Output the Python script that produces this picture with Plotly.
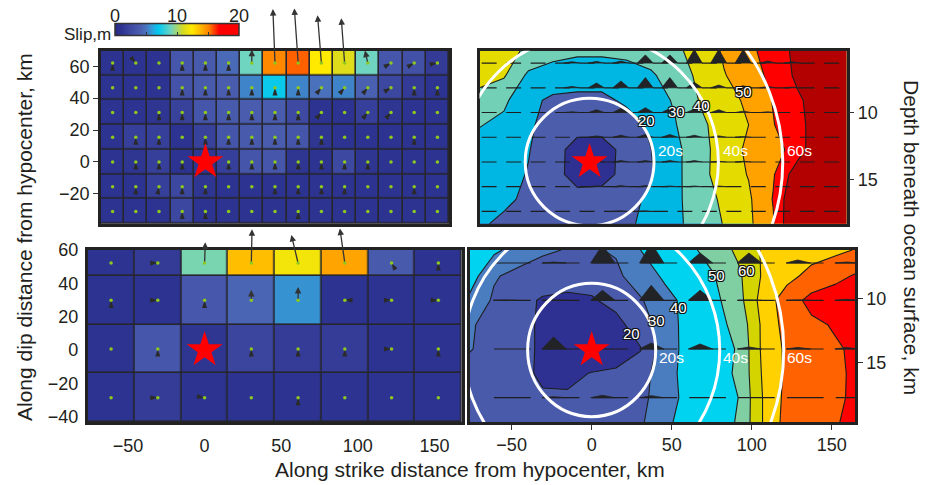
import math
import plotly.graph_objects as go

W, H = 933, 485
FONT = "Liberation Sans, Arial, Helvetica, sans-serif"
INK = "#231f20"

# ------------------------------------------------------------------ DATA
# Upper slip model: 15 x 7 subfaults (edges in km, along strike / along dip)
top_x_edges = [-68.4, -53.2, -38.0, -22.8, -7.6, 7.6, 22.8, 38.0, 53.2, 68.4,
               83.6, 98.8, 114.0, 129.2, 144.4, 159.6]
top_y_edges = [69.75, 54.25, 38.75, 23.25, 7.75, -7.75, -23.25, -38.75]   # top -> bottom
top_slip = [  # m, top row first
    [1.0, 1.0, 1.0, 3.5, 3.8, 4.6, 9.0, 15.0, 15.6, 12.4, 11.3, 9.0, 3.5, 3.0, 1.5],
    [1.0, 1.0, 1.0, 3.3, 3.8, 4.0, 5.4, 7.2, 5.4, 5.0, 5.4, 4.2, 2.3, 1.5, 1.0],
    [1.0, 1.0, 1.2, 2.0, 3.4, 3.8, 4.0, 4.0, 2.5, 1.0, 1.0, 1.8, 1.2, 1.0, 1.0],
    [1.0, 1.8, 1.8, 1.0, 2.0, 3.4, 3.8, 4.0, 3.4, 1.2, 1.0, 1.0, 1.0, 1.0, 1.0],
    [1.0, 1.2, 1.8, 1.0, 1.2, 1.8, 3.4, 3.5, 1.2, 1.0, 2.4, 1.2, 1.0, 1.0, 1.0],
    [1.0, 1.0, 1.8, 2.3, 1.2, 1.0, 1.0, 1.0, 1.0, 1.0, 1.0, 1.0, 1.0, 1.0, 1.0],
    [1.0, 1.0, 1.0, 2.3, 1.0, 1.0, 1.0, 1.0, 1.0, 1.0, 1.0, 1.0, 1.0, 1.0, 1.0],
]
N = None
top_rake = [  # direction of small slip vectors (deg clockwise from up-dip), None = not drawn
    [0, 140, N, 0, 0, 0, N, N, N, N, N, N, 60, 60, 80],
    [N, N, N, 0, 0, 0, 0, 0, 0, 40, 40, 40, 60, 0, 0],
    [N, N, 0, 0, 0, 0, 0, 0, 0, 40, N, 40, 40, N, N],
    [N, 0, 0, N, 0, 0, 0, 0, 0, 0, N, N, N, 0, N],
    [N, 0, 0, 0, N, 0, 0, 0, 0, 0, 0, 0, N, N, N],
    [N, 0, 10, 0, 0, N, N, 0, 0, 0, 0, N, N, 0, N],
    [N, N, N, 0, 0, N, N, N, 0, N, N, N, N, N, N],
]
# large slip vectors (row, col, along-strike m, up-dip m)
top_vec_row = [0, 0, 0, 0, 0, 0]
top_vec_col = [6, 7, 8, 9, 10, 11]
top_vec_ds = [0.0, -0.6, -1.1, -1.1, -0.95, -0.8]
top_vec_dd = [3.6, 14.7, 14.9, 13.0, 12.2, 3.4]

# Lower slip model: 8 x 4 subfaults
bot_x_edges = [-76.25, -45.75, -15.25, 15.25, 45.75, 76.25, 106.75, 137.25, 167.75]
bot_y_edges = [60.0, 44.4, 15.2, -14.0, -43.2]   # top -> bottom
bot_slip = [
    [1.0, 1.5, 9.2, 13.6, 12.0, 14.3, 3.8, 1.0],
    [1.0, 1.0, 3.6, 4.4, 5.7, 1.0, 1.0, 1.0],
    [1.0, 3.5, 1.2, 2.2, 1.6, 1.6, 1.0, 1.0],
    [1.0, 1.6, 1.0, 1.0, 1.0, 1.0, 1.0, 1.0],
]
bot_rake = [
    [N, 90, N, N, N, N, -30, 0],
    [0, 90, 0, N, N, 270, 90, 90],
    [N, 0, N, 0, 0, 0, 90, 0],
    [N, 90, 100, N, 0, N, N, N],
]
bot_vec_row = [0, 0, 0, 0, 1, 1]
bot_vec_col = [2, 3, 4, 5, 3, 4]
bot_vec_ds = [0.2, 0.2, -1.9, -1.4, 0.0, 0.0]
bot_vec_dd = [5.4, 8.8, 7.3, 9.0, 2.7, 3.5]

# Rupture time (s) for upper model, on subfault corners (top_x_edges x top_y_edges)
top_time = [
    [45, 43, 38.5, 34, 32, 32, 33, 35, 38.5, 43, 51.5, 58, 64, 73, 80, 85],
    [44, 41, 28, 25, 24, 24, 25, 28.5, 35, 42, 49.5, 55, 63, 72, 80, 85],
    [36, 32, 22, 18.5, 18, 18, 21.5, 26, 31, 40.5, 46, 52, 60.5, 68.5, 75, 80],
    [30.5, 27.5, 21.5, 16, 14, 14, 16, 21.5, 29.5, 38, 44, 50, 59.5, 67.5, 75, 80],
    [26, 24, 20.5, 14, 6, 6, 13, 19.8, 27.5, 36.5, 44.5, 52, 55.5, 65, 80, 85],
    [25, 23, 19.5, 14, 5.5, 6, 13.5, 19, 27.5, 36.5, 45, 50.5, 59, 76, 82, 86],
    [24, 21.5, 18.5, 15.5, 14, 14.5, 17.5, 21.5, 28, 35, 42, 48.5, 60.5, 82, 88, 92],
    [21, 18.5, 17, 16, 16, 16.5, 18.5, 22.5, 28, 34, 40.5, 48, 59, 85, 95, 100],
]
# Rupture time (s) for lower model on a half-subfault node grid
bot_t_x = [-76.25, -61.0, -45.75, -30.5, -15.25, 0.0, 15.25, 30.5, 45.75, 61.0,
           76.25, 91.5, 106.75, 122.0, 137.25, 152.5, 167.75]
bot_t_y = [60.0, 44.4, 29.8, 15.2, 0.6, -14.0, -28.6, -43.2]
bot_time = [
    [46, 42, 36, 31.5, 29.5, 29, 31, 40, 45, 48, 54, 62, 71, 74, 76, 78, 81],
    [45, 31, 27, 25, 24, 24, 28, 35, 41.5, 46, 49.5, 58, 71, 77, 83, 87, 92],
    [38, 28.5, 23, 19, 18, 19, 23, 29, 37, 43, 47.5, 56, 74, 85, 93, 96, 95],
    [31, 27, 23, 18.5, 15, 14, 17, 25, 35, 44, 47, 52.5, 72, 84, 88, 91, 93],
    [30.5, 27, 23, 18.5, 13, 10, 13, 19.5, 36, 43, 47, 50.5, 72, 82, 86, 89, 92],
    [27, 25, 22.5, 18.5, 17, 20.5, 22, 25, 37, 43, 47, 51, 71, 82, 86, 88.5, 92],
    [27, 25, 23, 21, 21.5, 22.5, 24, 27, 36, 43, 46.5, 50, 70, 83, 86, 88, 93],
    [27, 26, 25, 24, 23.5, 23.5, 24.5, 28.5, 38, 44, 47, 50.5, 70, 84, 86, 89, 95],
]
# relative peak amplitude of slip-rate functions
top_amp = [
    [0, 0, 0, 0.1, 0.12, 0.15, 0.6, 0.6, 1.0, 1.0, 1.0, 0.15, 0.1, 0, 0],
    [0, 0, 0, 0.1, 0.35, 0.5, 0.75, 0.75, 0.4, 0.2, 0.15, 0.1, 0.05, 0, 0],
    [0, 0, 0, 0.05, 0.2, 0.3, 0.35, 0.3, 0.25, 0.2, 0.1, 0.05, 0, 0, 0],
    [0, 0, 0, 0, 0.1, 0.15, 0.2, 0.2, 0.15, 0.1, 0.05, 0, 0, 0, 0],
    [0, 0, 0, 0, 0.05, 0.1, 0.1, 0.1, 0.1, 0.05, 0.05, 0, 0, 0, 0],
    [0, 0, 0, 0, 0.05, 0.08, 0.08, 0.05, 0.05, 0.05, 0, 0, 0, 0, 0],
    [0, 0, 0, 0, 0, 0.05, 0.05, 0, 0, 0, 0, 0, 0, 0, 0],
]
bot_amp = [
    [0, 0.05, 0.9, 1.0, 0.5, 0.5, 0.15, 0.05],
    [0.02, 0.02, 0.5, 0.75, 0.5, 0.02, 0.02, 0.05],
    [0, 0.6, 0, 0.3, 0.25, 0.1, 0.08, 0.08],
    [0, 0.05, 0.12, 0.1, 0, 0, 0, 0],
]
front_times = [20, 40, 60]      # s
rupture_speed = 2.0             # km/s
top_contour_labels = [20, 30, 40, 50]
top_label_x = [35.4, 54.0, 69.6, 95.4]
top_label_y = [26.3, 31.5, 35.7, 44.0]
bot_contour_labels = [20, 30, 40, 50, 60]
bot_label_x = [25.0, 40.2, 54.1, 77.7, 96.9]
bot_label_y = [10.0, 17.7, 25.4, 44.8, 47.9]
depth_ticks = [10, 15]
top_hypo_depth, top_dip = 13.7, 6.9
bot_hypo_depth, bot_dip = 14.0, 7.4
x_ticks = [-50, 0, 50, 100, 150]

# ------------------------------------------------------------------ STYLE
slip_cs = [[0.0, "#292c84"], [0.05, "#2d3390"], [0.12, "#3d48a0"], [0.2, "#4a5cae"],
           [0.25, "#4a72bc"], [0.3, "#2fa0dc"], [0.35, "#00c8f0"], [0.45, "#6fd4c0"],
           [0.55, "#d6da22"], [0.62, "#ffea00"], [0.7, "#ffb000"], [0.76, "#ff8000"],
           [0.8, "#ff4000"], [0.84, "#ff0000"], [1.0, "#ff0000"]]
top_band_colors = ["#2e3192", "#4b5dab", "#00b6e3", "#71d0b6", "#e4db00", "#ffa200",
                   "#ff0000", "#b30000"]
bot_band_colors = ["#2e3192", "#4a5aab", "#4a7dc0", "#00d3ef", "#80cfa3", "#d4d400",
                   "#ffd100", "#ff6200", "#ff0000"]


def band_scale(cols):
    n = len(cols) - 1
    return [[i / n, c] for i, c in enumerate(cols)]


def mids(e):
    return [(e[i] + e[i + 1]) / 2 for i in range(len(e) - 1)]


def fx(p):
    return p / W


def fy(p):
    return 1 - p / H


fig = go.Figure()

# ---------------- slip heatmaps
for xe, ye, z, xa, ya in [(top_x_edges, top_y_edges, top_slip, "x", "y"),
                          (bot_x_edges, bot_y_edges, bot_slip, "x3", "y3")]:
    fig.add_trace(go.Heatmap(x=xe, y=ye[::-1], z=z[::-1], coloraxis="coloraxis",
                             xgap=1.6, ygap=1.6, xaxis=xa, yaxis=ya, hoverinfo="skip"))

# small slip arrowheads + green dots
for xe, ye, rk, xa, ya, sz in [(top_x_edges, top_y_edges, top_rake, "x", "y", 8),
                               (bot_x_edges, bot_y_edges, bot_rake, "x3", "y3", 8)]:
    xc, yc = mids(xe), mids(ye)
    ax_, ay_, ang = [], [], []
    dx, dy = [], []
    for r, yv in enumerate(yc):
        for c, xv in enumerate(xc):
            dx.append(xv)
            dy.append(yv)
            if rk[r][c] is not None:
                ax_.append(xv)
                ay_.append(yv)
                ang.append(rk[r][c])
    fig.add_trace(go.Scatter(x=ax_, y=ay_, mode="markers", xaxis=xa, yaxis=ya,
                             marker=dict(symbol="arrow", size=sz, angle=ang, color="#2a2a2a",
                                         line=dict(width=0)),
                             hoverinfo="skip", showlegend=False))
    fig.add_trace(go.Scatter(x=dx, y=dy, mode="markers", xaxis=xa, yaxis=ya,
                             marker=dict(symbol="circle", size=3.5, color="#8cc81e",
                                         line=dict(width=0)),
                             hoverinfo="skip", showlegend=False))

# ---------------- rupture-time contours
fig.add_trace(go.Contour(x=top_x_edges, y=top_y_edges[::-1], z=top_time[::-1],
                         xaxis="x2", yaxis="y2", autocontour=False,
                         contours=dict(start=10, end=70, size=10, coloring="fill", showlines=True),
                         colorscale=band_scale(top_band_colors), showscale=False,
                         line=dict(color="#1e1e1e", width=1.1, smoothing=0), hoverinfo="skip"))
fig.add_trace(go.Contour(x=bot_t_x, y=bot_t_y[::-1], z=bot_time[::-1],
                         xaxis="x4", yaxis="y4", autocontour=False,
                         contours=dict(start=20, end=90, size=10, coloring="fill", showlines=True),
                         colorscale=band_scale(bot_band_colors), showscale=False,
                         line=dict(color="#1e1e1e", width=1.1, smoothing=0), hoverinfo="skip"))


# time-window dashes and slip-rate peaks
def windows(xe, ye, amp, xa, ya, d0, d1, p0, pk, p1, hscale):
    xc, yc = mids(xe), mids(ye)
    lx, ly, wx, wy = [], [], [], []
    for r, yv in enumerate(yc):
        for c, xv in enumerate(xc):
            w = xe[c + 1] - xe[c]
            lx += [xv + d0 * w, xv + d1 * w, None]
            ly += [yv, yv, None]
            a = amp[r][c]
            if a > 0:
                wx += [xv + p0 * w, xv + pk * w, xv + p1 * w, xv + p0 * w, None]
                wy += [yv, yv + a * hscale, yv, yv, None]
    fig.add_trace(go.Scatter(x=lx, y=ly, mode="lines", xaxis=xa, yaxis=ya,
                             line=dict(color="#1e1e1e", width=1.2),
                             hoverinfo="skip", showlegend=False))
    fig.add_trace(go.Scatter(x=wx, y=wy, mode="lines", fill="toself", xaxis=xa, yaxis=ya,
                             fillcolor="#222326", line=dict(color="#222326", width=0.8),
                             hoverinfo="skip", showlegend=False))


windows(top_x_edges, top_y_edges, top_amp, "x2", "y2", -0.41, 0.2, -0.05, 0.28, 0.6, 8.5)
windows(bot_x_edges, bot_y_edges, bot_amp, "x4", "y4", 0.0, 0.75, -0.02, 0.22, 0.48, 12.0)

# hypocentre stars
for xa, ya in [("x", "y"), ("x2", "y2"), ("x3", "y3"), ("x4", "y4")]:
    fig.add_trace(go.Scatter(x=[0], y=[0], mode="markers", xaxis=xa, yaxis=ya,
                             marker=dict(symbol="star", size=27, color="#ff0000",
                                         line=dict(width=0)),
                             hoverinfo="skip", showlegend=False))

# ---------------- shapes: rupture front circles
shapes = []
for xa, ya in [("x2", "y2"), ("x4", "y4")]:
    for t in front_times:
        r = t * rupture_speed
        shapes.append(dict(type="circle", xref=xa, yref=ya, x0=-r, x1=r, y0=-r, y1=r,
                           line=dict(color="white", width=3), layer="above"))

# ---------------- annotations
ann = []
outline = "1px 1px 0px #111, -1px -1px 0px #111, 1px -1px 0px #111, -1px 1px 0px #111"
for labs, lx, ly, xa, ya in [(top_contour_labels, top_label_x, top_label_y, "x2", "y2"),
                             (bot_contour_labels, bot_label_x, bot_label_y, "x4", "y4")]:
    for t, x, y in zip(labs, lx, ly):
        ann.append(dict(x=x, y=y, xref=xa, yref=ya, text=str(t), showarrow=False,
                        xanchor="center", yanchor="middle",
                        font=dict(family=FONT, size=15, color="white", shadow=outline)))
for xa, ya, yy, off in [("x2", "y2", 7.5, 1.5), ("x4", "y4", -4.2, 0.5)]:
    for t in front_times:
        ann.append(dict(x=t * rupture_speed + off, y=yy, xref=xa, yref=ya, text=f"{t}s",
                        xanchor="left", yanchor="middle", showarrow=False,
                        font=dict(family=FONT, size=15.5, color="white")))

# big slip vectors
VSCALE = 2.3  # km of plot per metre of slip
for xe, ye, rows, cols, ds, dd, xa, ya in [
        (top_x_edges, top_y_edges, top_vec_row, top_vec_col, top_vec_ds, top_vec_dd, "x", "y"),
        (bot_x_edges, bot_y_edges, bot_vec_row, bot_vec_col, bot_vec_ds, bot_vec_dd, "x3", "y3")]:
    xc, yc = mids(xe), mids(ye)
    for r, c, a, b in zip(rows, cols, ds, dd):
        ann.append(dict(x=xc[c] + a * VSCALE, y=yc[r] + b * VSCALE, ax=xc[c], ay=yc[r],
                        xref=xa, yref=ya, axref=xa, ayref=ya, text="", showarrow=True,
                        arrowhead=2, arrowsize=1.0, arrowwidth=1.3, arrowcolor="#333333",
                        standoff=0, startstandoff=0))

# colour bar labels
CB_L, CB_LEN, CB_TOP, CB_TH = 115, 124, 28.5, 12
for v in [0, 10, 20]:
    ann.append(dict(x=fx(CB_L + v / 20 * CB_LEN), y=fy(CB_TOP - 1), xref="paper", yref="paper",
                    text=str(v), showarrow=False, xanchor="center", yanchor="bottom",
                    font=dict(family=FONT, size=18, color=INK)))
ann.append(dict(x=fx(CB_L - 2), y=fy(CB_TOP + CB_TH / 2), xref="paper", yref="paper",
                text="Slip,m", showarrow=False, xanchor="right", yanchor="middle",
                font=dict(family=FONT, size=17, color=INK)))
# axis titles
ann.append(dict(x=fx(470), y=fy(469), xref="paper", yref="paper",
                text="Along strike distance from hypocenter, km", showarrow=False,
                xanchor="center", yanchor="middle",
                font=dict(family=FONT, size=21, color=INK)))
ann.append(dict(x=fx(24), y=fy(237), xref="paper", yref="paper", textangle=-90,
                text="Along dip distance from hypocenter, km", showarrow=False,
                xanchor="center", yanchor="middle",
                font=dict(family=FONT, size=21, color=INK)))
ann.append(dict(x=fx(912), y=fy(237), xref="paper", yref="paper", textangle=90,
                text="Depth beneath ocean surface, km", showarrow=False,
                xanchor="center", yanchor="middle",
                font=dict(family=FONT, size=21, color=INK)))


# ---------------- axes
def depth_to_dip(d, hd, dip):
    return (hd - d) / math.sin(math.radians(dip))


frame = dict(showline=True, mirror=True, linewidth=2.5, linecolor="#222222",
             showgrid=False, zeroline=False)
tickf = dict(family=FONT, size=18, color=INK)
TOP = [fy(223.8), fy(50.7)]
BOT = [fy(422.0), fy(250.0)]
layout_axes = dict(
    xaxis=dict(domain=[fx(101), fx(449)], range=[top_x_edges[0], top_x_edges[-1]],
               showticklabels=False, ticks="", anchor="y", **frame),
    yaxis=dict(domain=TOP, range=[top_y_edges[-1], top_y_edges[0]], anchor="x",
               tickvals=[-20, 0, 20, 40, 60], ticks="outside", ticklen=5, tickcolor="#333",
               tickfont=tickf, **frame),
    xaxis2=dict(domain=[fx(479.5), fx(846.5)], range=[top_x_edges[0], top_x_edges[-1]],
                showticklabels=False, ticks="", anchor="y2", **frame),
    yaxis2=dict(domain=TOP, range=[top_y_edges[-1], top_y_edges[0]], anchor="x2", side="right",
                tickvals=[depth_to_dip(d, top_hypo_depth, top_dip) for d in depth_ticks],
                ticktext=[str(d) for d in depth_ticks], ticks="outside", ticklen=5,
                tickcolor="#333", tickfont=tickf, **frame),
    xaxis3=dict(domain=[fx(87.7), fx(461.7)], range=[bot_x_edges[0], bot_x_edges[-1]],
                tickvals=x_ticks, ticks="outside", ticklen=6, tickcolor="rgba(0,0,0,0)",
                tickfont=tickf, anchor="y3", **frame),
    yaxis3=dict(domain=BOT, range=[bot_y_edges[-1], bot_y_edges[0]], anchor="x3",
                tickvals=[-40, -20, 0, 20, 40, 60], ticks="outside", ticklen=3,
                tickcolor="rgba(0,0,0,0)", tickfont=tickf, **frame),
    xaxis4=dict(domain=[fx(470), fx(855)], range=[-76.0, 164.5], tickvals=x_ticks,
                ticks="outside", ticklen=5, tickcolor="#333", tickfont=tickf, anchor="y4", **frame),
    yaxis4=dict(domain=BOT, range=[bot_y_edges[-1], bot_y_edges[0]], anchor="x4", side="right",
                tickvals=[depth_to_dip(d, bot_hypo_depth, bot_dip) for d in depth_ticks],
                ticktext=[str(d) for d in depth_ticks], ticks="outside", ticklen=5,
                tickcolor="#333", tickfont=tickf, **frame),
)

fig.update_layout(
    width=W, height=H, margin=dict(l=0, r=0, t=0, b=0, autoexpand=False),
    paper_bgcolor="white", plot_bgcolor="#26262c", showlegend=False,
    font=dict(family=FONT, color=INK),
    coloraxis=dict(cmin=0, cmax=20, colorscale=slip_cs,
                   colorbar=dict(orientation="h", x=fx(CB_L), xanchor="left",
                                 y=fy(CB_TOP + CB_TH), yanchor="bottom",
                                 len=CB_LEN, lenmode="pixels", thickness=CB_TH,
                                 thicknessmode="pixels", xpad=0, ypad=0,
                                 outlinewidth=1.5, outlinecolor="#333",
                                 tickvals=[0, 5, 10, 15, 20], ticks="inside", ticklen=4,
                                 tickcolor="#333", showticklabels=False)),
    shapes=shapes, annotations=ann, **layout_axes)

fig.write_html("out.html")
